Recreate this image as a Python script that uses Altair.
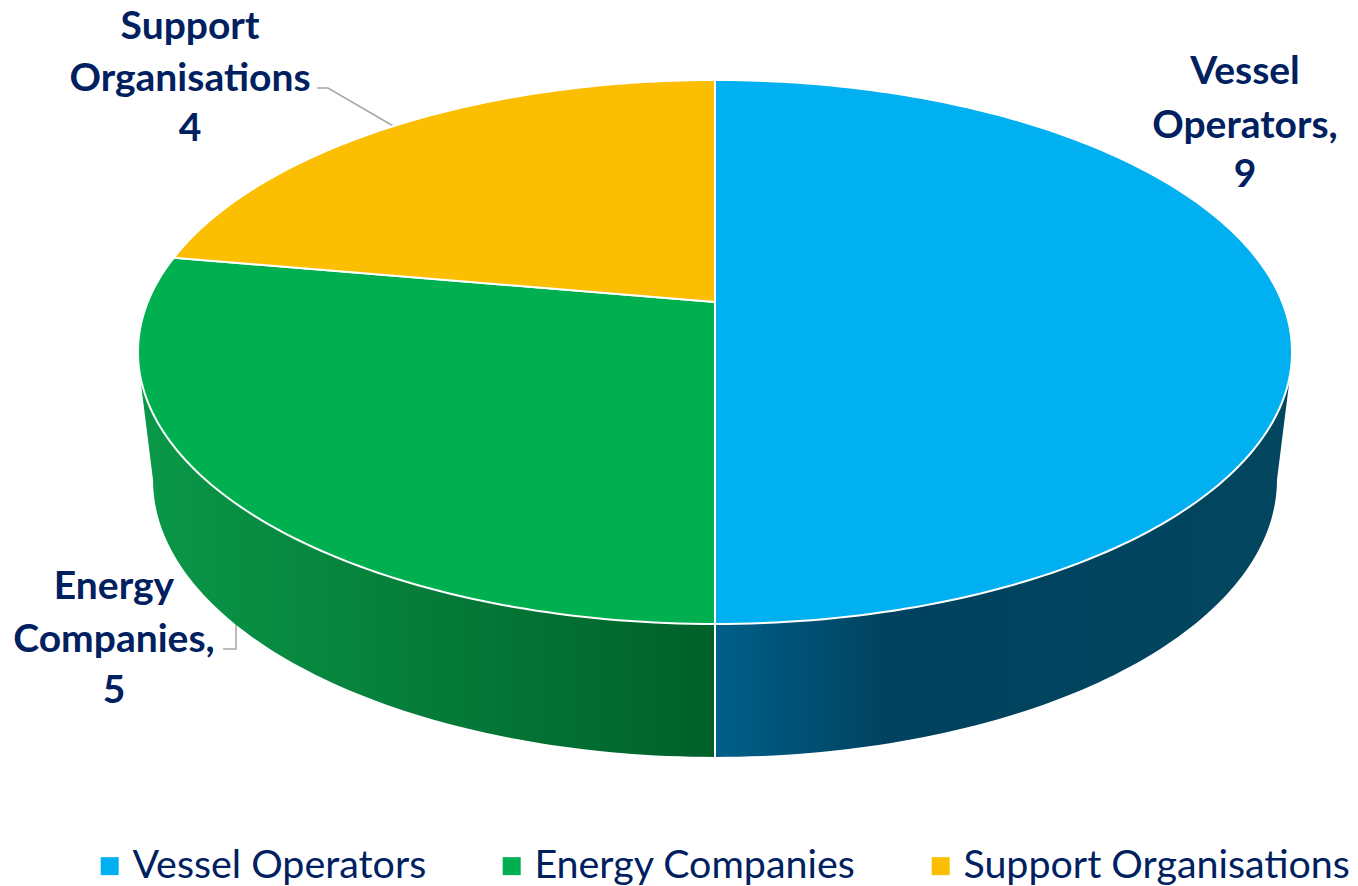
import math
import altair as alt
import pandas as pd

# ---- chart values ----
categories = ["Vessel Operators", "Energy Companies", "Support Organisations"]
values = [9, 5, 4]
top_colors = ["#00B0F0", "#00B050", "#FCBE00"]
label_lines = [["Vessel", "Operators,", "9"], ["Energy", "Companies,", "5"], ["Support", "Organisations", "4"]]
label_x = [1245, 114, 190]
label_y = [[72, 126, 175], [587, 640, 691], [27, 79, 129]]
leaders = [[(317, 88), (328, 88), (395, 127)], [(223, 649), (236, 649), (236, 622)]]

# ---- perspective of the disc (top face and bottom rim) ----
W, H = 1342, 878
CX = 715
TILT = 0.1838
TOP = dict(A=567.2, c=302.0, C=207.3)
BOT = dict(A=552.4, c=429.0, C=188.8)


def project(face, deg):
    t = math.radians(deg)
    u, v = math.sin(t), math.cos(t)
    w = 1 + TILT * v
    return CX + face["A"] * u / w, (face["c"] - face["C"] * v) / w


def rng(a, b, step=1.0):
    n = max(1, int(abs(b - a) / step))
    return [a + (b - a) * k / n for k in range(n + 1)]


total = sum(values)
rows = []
start = 0.0
for cat, val in zip(categories, values):
    end = start + 360.0 * val / total
    pts = [(CX, TOP["c"])] + [project(TOP, d) for d in rng(start, end)]
    for i, (x, y) in enumerate(pts):
        rows.append(dict(cat=cat, i=i, x=x, y=y))
    start = end
tops = pd.DataFrame(rows)


def wall(top_a, top_b, bot_a, bot_b):
    pts = [project(TOP, d) for d in rng(top_a, top_b)] + [project(BOT, d) for d in rng(bot_a, bot_b)]
    return pd.DataFrame([dict(i=i, x=x, y=y) for i, (x, y) in enumerate(pts)])


x_enc = alt.X("x:Q", axis=None, scale=alt.Scale(domain=[8, 1350]))
y_enc = alt.Y("y:Q", axis=None, scale=alt.Scale(domain=[886, 8]))


def wall_layer(df, stops):
    grad = alt.Gradient(gradient="linear", x1=0, x2=1, y1=0, y2=0,
                        stops=[alt.GradientStop(offset=o, color=c) for o, c in stops])
    return alt.Chart(df).mark_line(interpolate="linear-closed", fill=grad, strokeWidth=0).encode(
        x=x_enc, y=y_enc, order=alt.Order("i:Q"))


blue_wall = wall_layer(wall(104, 180, 180, 100.6),
                       [(0, "#005F8A"), (0.3, "#00425F"), (1, "#03465F")])
green_wall = wall_layer(wall(180, 256, 259.4, 180),
                        [(0, "#0A9848"), (1, "#00602A")])

divider = alt.Chart(pd.DataFrame(dict(x=[CX, CX], y=[project(TOP, 180)[1], project(BOT, 180)[1]]))).mark_line(
    color="white", strokeWidth=2).encode(x=x_enc, y=y_enc)

top_layer = alt.Chart(tops).mark_line(interpolate="linear-closed", stroke="white", strokeWidth=2).encode(
    x=x_enc, y=y_enc, order=alt.Order("i:Q"),
    fill=alt.Fill("cat:N", sort=categories,
                  scale=alt.Scale(domain=categories, range=top_colors),
                  legend=alt.Legend(title=None, orient="none", legendX=82, legendY=838, direction="horizontal",
                                    columns=3, symbolType="square", symbolSize=324, symbolStrokeWidth=0,
                                    labelFont="Lato", labelFontSize=39.4, labelColor="#002060", labelLimit=600,
                                    labelOffset=3, columnPadding=65, padding=0)))

leader_df = pd.DataFrame([dict(k=k, i=i, x=p[0], y=p[1]) for k, ln in enumerate(leaders) for i, p in enumerate(ln)])
leader_layer = alt.Chart(leader_df).mark_line(color="#A6A6A6", strokeWidth=1.5).encode(
    x=x_enc, y=y_enc, detail="k:N", order=alt.Order("i:Q"))

label_df = pd.DataFrame([dict(t=t, x=label_x[k], y=label_y[k][j])
                         for k, lines in enumerate(label_lines) for j, t in enumerate(lines)])
label_layer = alt.Chart(label_df).mark_text(font="Lato", fontSize=39, fontWeight="bold", color="#002060",
                                            align="center", baseline="middle").encode(x=x_enc, y=y_enc, text="t:N")

chart = (alt.layer(leader_layer, blue_wall, green_wall, divider, top_layer, label_layer)
         .properties(width=W, height=H, padding=0, autosize=alt.AutoSizeParams(type="none"))
         .configure_view(stroke=None))
chart.save("out.html", embed_options={"renderer": "svg", "actions": False})
